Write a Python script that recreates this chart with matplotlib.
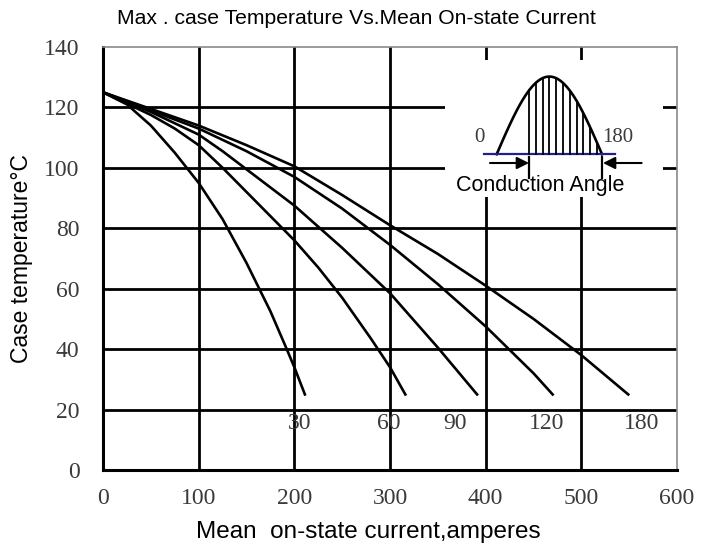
import matplotlib.pyplot as plt
from matplotlib.patches import Rectangle
import numpy as np

# Max. case temperature vs mean on-state current
x_ticks = [0, 100, 200, 300, 400, 500, 600]
y_ticks = [0, 20, 40, 60, 80, 100, 120, 140]

curve_labels = ['30', '60', '90', '120', '180']
label_x = [206, 299, 368, 464, 563]
label_y = 15.5

cur_30 = [0, 25, 50, 75, 100, 125, 150, 175, 190, 200, 211]
temp_30 = [125, 121, 114, 105, 95, 83, 68.5, 52.5, 41.5, 34, 25]

cur_60 = [0, 50, 75, 100, 125, 150, 175, 200, 225, 250, 280, 300, 316]
temp_60 = [125, 117.5, 113, 107.5, 100, 92, 84, 76, 67, 57, 43.5, 34, 25]

cur_90 = [0, 50, 100, 125, 150, 200, 250, 300, 350, 391]
temp_90 = [125, 118.5, 111, 105.5, 99.5, 87.5, 73.5, 58.5, 40.5, 25]

cur_120 = [0, 50, 100, 150, 200, 250, 300, 350, 400, 450, 470]
temp_120 = [125, 119, 113, 105.5, 97, 86.5, 74.5, 61.5, 47.5, 32, 25]

cur_180 = [0, 50, 100, 150, 200, 250, 300, 350, 400, 450, 500, 549]
temp_180 = [125, 119.5, 114, 107.5, 100.5, 91, 81, 71.5, 61, 50, 38, 25]

curves = [(cur_30, temp_30), (cur_60, temp_60), (cur_90, temp_90),
          (cur_120, temp_120), (cur_180, temp_180)]

serif = ['Liberation Serif', 'DejaVu Serif']
sans = ['Liberation Sans', 'DejaVu Sans']
tick_color = '#3a3a3a'

fig = plt.figure(figsize=(7.14, 5.52), dpi=100)
ax = fig.add_axes([0.1443, 0.1486, 0.8039, 0.7663])

# grid lines (inner only, edges are the frame)
for v in y_ticks[1:-1]:
    ax.axhline(v, color='black', lw=2.0, zorder=1)
for v in x_ticks[1:-1]:
    ax.axvline(v, color='black', lw=2.0, zorder=1)

for cx, cy in curves:
    ax.plot(cx, cy, color='black', lw=1.9, zorder=3)

for lab, lx in zip(curve_labels, label_x):
    ax.text(lx, label_y, lab, ha='center', va='center', fontsize=17,
            family=serif, color=tick_color)

ax.set_xlim(0, 600)
ax.set_ylim(0, 140)
ax.set_xticks(x_ticks)
ax.set_yticks(y_ticks)
ax.tick_params(length=0, labelsize=17, colors=tick_color)
ax.tick_params(axis='x', pad=13)
ax.tick_params(axis='y', pad=17)
for t in ax.get_xticklabels() + ax.get_yticklabels():
    t.set_family(serif)

for s in ['left', 'bottom']:
    ax.spines[s].set_color('black')
    ax.spines[s].set_linewidth(2.2)
for s in ['top', 'right']:
    ax.spines[s].set_color('#8a8a8a')
    ax.spines[s].set_linewidth(1.2)

ax.set_xlabel('Mean  on-state current,amperes', fontsize=17.5, family=sans)
ax.xaxis.set_label_coords(0.463, -0.12)
ax.set_ylabel('Case temperature°C', fontsize=16.5, family=sans)
ax.yaxis.set_label_coords(-0.122, 0.5)
fig.text(0.499, 0.967, 'Max . case Temperature Vs.Mean On-state Current',
         ha='center', va='center', fontsize=15.2, family=sans)

# inset sketch: conducting half sine wave on a white panel
ax.add_patch(Rectangle((357.5, 90.4), 227.5, 45.3, facecolor='white',
                       edgecolor='none', zorder=2))

arc_start, arc_end = 411.5, 521.6
base_y, peak_h = 104.5, 25.7
hatch_start, hatch_end = 445.3, 516.4

ph = np.linspace(0, np.pi, 80)
ax.plot(arc_start + (arc_end - arc_start) * ph / np.pi, base_y + peak_h * np.sin(ph),
        color='black', lw=1.9, zorder=4)
ax.plot([398, 535], [base_y, base_y], color='#1f1f8f', lw=1.6, zorder=4)
for hx in np.linspace(hatch_start, hatch_end, 11):
    hy = base_y + peak_h * np.sin(np.pi * (hx - arc_start) / (arc_end - arc_start))
    ax.plot([hx, hx], [base_y, hy], color='black', lw=1.3, zorder=4)

arrow_y = 101.6
ax.annotate('', xy=(hatch_start, arrow_y), xytext=(404.5, arrow_y),
            arrowprops=dict(arrowstyle='-|>', color='black', lw=1.5,
                            mutation_scale=18, shrinkA=0, shrinkB=0), zorder=4)
ax.annotate('', xy=(522.6, arrow_y), xytext=(563, arrow_y),
            arrowprops=dict(arrowstyle='-|>', color='black', lw=1.5,
                            mutation_scale=18, shrinkA=0, shrinkB=0), zorder=4)
ax.plot([hatch_start, hatch_start], [96.7, 103.6], color='black', lw=1.6, zorder=4)
ax.plot([521.6, 521.6], [96.7, 103.6], color='black', lw=1.6, zorder=4)

ax.text(393, 110.2, '0', ha='center', va='center', fontsize=15,
        family=serif, color=tick_color)
ax.text(538, 110.2, '180', ha='center', va='center', fontsize=15,
        family=serif, color=tick_color)
ax.text(456.8, 94, 'Conduction Angle', ha='center', va='center', fontsize=15.5,
        family=sans, color='black', zorder=5)

fig.savefig('out.png', dpi=100)
